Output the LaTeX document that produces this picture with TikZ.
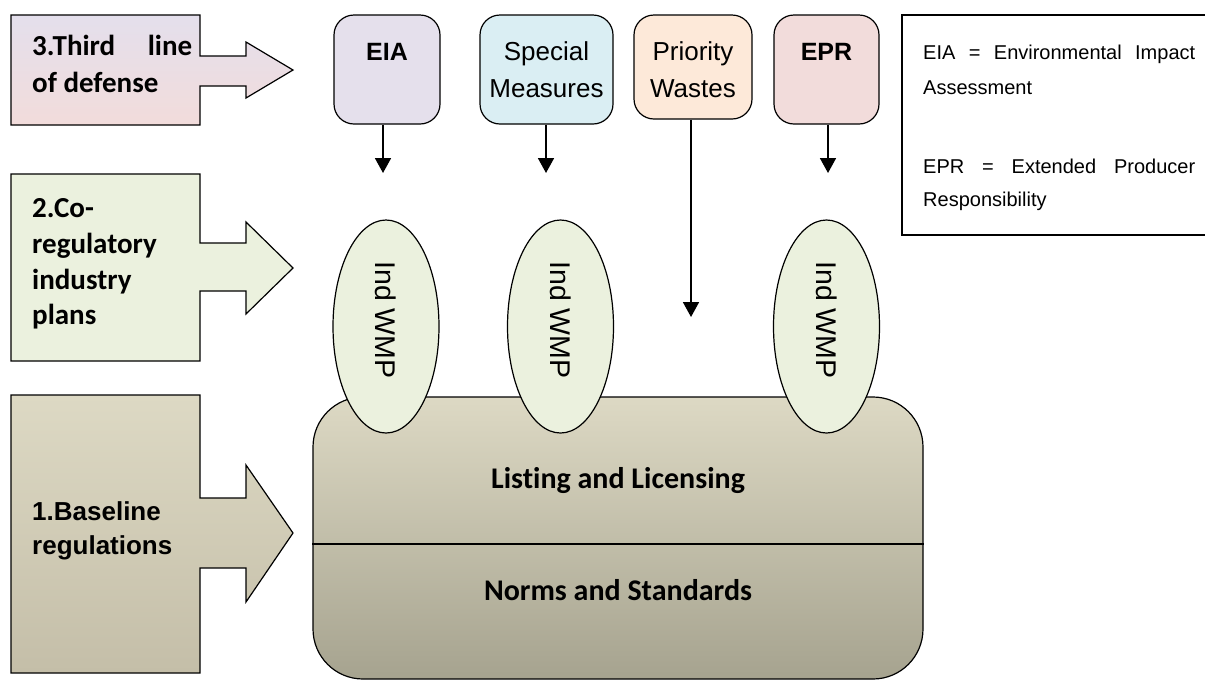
\documentclass[tikz,border=0pt]{standalone}
\usepackage{fontspec}
\setmainfont{Liberation Sans}
\newfontfamily\calibri[Ligatures=NoCommon]{Carlito}
\usetikzlibrary{arrows.meta,shapes.geometric}
\definecolor{cthreetop}{HTML}{E4DFEC}
\definecolor{cthreebot}{HTML}{F2DCDB}
\definecolor{ctwo}{HTML}{EBF1DE}
\definecolor{conetop}{HTML}{DDD9C4}
\definecolor{conebot}{HTML}{C4BEA8}
\definecolor{basetop}{HTML}{DDD9C4}
\definecolor{basebot}{HTML}{A6A38F}
\definecolor{eiac}{HTML}{E5E0EC}
\definecolor{specc}{HTML}{DAEEF3}
\definecolor{prioc}{HTML}{FDE9D9}
\definecolor{eprc}{HTML}{F2DCDB}
\definecolor{ellc}{HTML}{EBF1DE}
\tikzset{
  outline/.style={draw=black, line width=1.2pt},
  topbox/.style={outline, rounded corners=20pt, inner sep=0pt},
  plan/.style={outline, ellipse, fill=ellc, minimum width=106pt, minimum height=213pt, inner sep=0pt},
  feed/.style={line width=1.8pt, -{Triangle[length=15pt,width=16pt]}},
  boxtxt/.style={font=\fontsize{26}{30}\selectfont, inner sep=0pt, anchor=base},
  calltxt/.style={font=\calibri\bfseries\fontsize{29}{36}\selectfont, inner sep=0pt, anchor=base west},
  legtxt/.style={font=\fontsize{20}{24}\selectfont, inner sep=0pt, anchor=base west},
  plantxt/.style={font=\fontsize{28.5}{32}\selectfont, inner sep=0pt, rotate=-90},
  basetxt/.style={font=\calibri\bfseries\fontsize{30}{34}\selectfont, inner sep=0pt, anchor=base},
}
\begin{document}
\begin{tikzpicture}[x=1pt,y=-1pt]
\useasboundingbox (0,0) rectangle (1205,681);

% left callouts
\path[outline, top color=cthreetop, bottom color=cthreebot]
  (11,15) -- (200,15) -- (200,56) -- (246,56) -- (246,42) -- (293,70) -- (246,98) -- (246,86) -- (200,86) -- (200,125) -- (11,125) -- cycle;
\node[calltxt] (t3a) at (32,55) {\makebox[160pt][s]{3.Third line}};
\node[calltxt] (t3b) at (32,92) {of defense};

\path[outline, fill=ctwo]
  (11,174) -- (200,174) -- (200,243) -- (246,243) -- (246,222) -- (293,268) -- (246,314) -- (246,291) -- (200,291) -- (200,361) -- (11,361) -- cycle;
\node[calltxt] (t2a) at (32,217) {2.Co-};
\node[calltxt] (t2b) at (32,253) {regulatory};
\node[calltxt] (t2c) at (32,289) {industry};
\node[calltxt] (t2d) at (32,324) {plans};

\path[outline, top color=conetop, bottom color=conebot]
  (11,395) -- (200,395) -- (200,498) -- (246,498) -- (246,465) -- (293,533) -- (246,602) -- (246,568) -- (200,568) -- (200,673) -- (11,673) -- cycle;
\node[anchor=base west, inner sep=0pt, font=\bfseries\fontsize{26}{30}\selectfont] (t1a) at (32,520) {1.Baseline};
\node[anchor=base west, inner sep=0pt, font=\bfseries\fontsize{26}{30}\selectfont] (t1b) at (32,554) {regulations};

% top boxes
\node[topbox, fill=eiac, minimum width=106pt, minimum height=109pt] (eia) at (387,69.5) {};
\node[boxtxt, font=\bfseries\fontsize{25}{30}\selectfont] (eiat) at (387,60) {EIA};
\node[topbox, fill=specc, minimum width=133pt, minimum height=109pt] (spec) at (546.5,69.5) {};
\node[boxtxt] (speca) at (546.5,60) {Special};
\node[boxtxt] (specb) at (546.5,97) {Measures};
\node[topbox, fill=prioc, minimum width=118pt, minimum height=104pt] (prio) at (693,67) {};
\node[boxtxt] (prioa) at (693,60) {Priority};
\node[boxtxt] (priob) at (693,97) {Wastes};
\node[topbox, fill=eprc, minimum width=105pt, minimum height=109pt] (epr) at (826.5,69.5) {};
\node[boxtxt, font=\bfseries\fontsize{25}{30}\selectfont] (eprt) at (826.5,60) {EPR};

% legend
\draw[outline] (1206,15) -- (902,15) -- (902,235) -- (1206,235);
\node[legtxt] (l1) at (923,59) {\makebox[272pt][s]{EIA = Environmental Impact}};
\node[legtxt] (l2) at (923,94) {Assessment};
\node[legtxt] (l3) at (923,173) {\makebox[272pt][s]{EPR = Extended Producer}};
\node[legtxt] (l4) at (923,206) {Responsibility};

% arrows
\coordinate (a1) at (383,173);
\coordinate (a2) at (546,173);
\coordinate (a3) at (691,317);
\coordinate (a4) at (828,173);
\draw[feed] (a1 |- eia.south) -- (a1);
\draw[feed] (a2 |- spec.south) -- (a2);
\draw[feed] (a3 |- prio.south) -- (a3);
\draw[feed] (a4 |- epr.south) -- (a4);

% base box
\node[outline, rounded corners=50pt, minimum width=610pt, minimum height=282pt, inner sep=0pt, top color=basetop, bottom color=basebot] (base) at (618,538) {};
\coordinate (div) at (0,544);
\draw[outline] (base.west |- div) -- (base.east |- div);
\node[basetxt] (list) at (618,488) {Listing and Licensing};
\node[basetxt] (norm) at (618,600) {Norms and Standards};

% plans
\node[plan] (e1) at (386,326.5) {};
\node[plan] (e2) at (560.5,326.5) {};
\node[plan] (e3) at (826.5,326.5) {};
\node[plantxt] (e1t) at (386,320) {Ind WMP};
\node[plantxt] (e2t) at (560.5,320) {Ind WMP};
\node[plantxt] (e3t) at (826.5,320) {Ind WMP};
\end{tikzpicture}
\end{document}
